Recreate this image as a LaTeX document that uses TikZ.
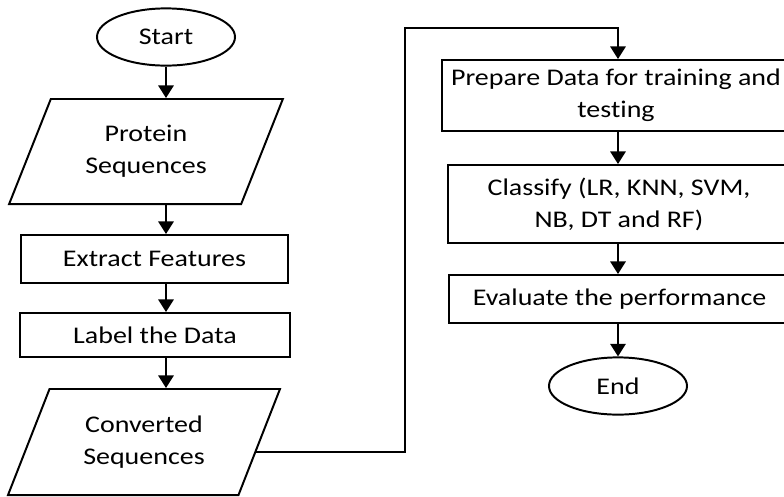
\documentclass[tikz,border=0pt]{standalone}
\usepackage{fontspec}
\setmainfont{Carlito}[FakeStretch=1.17,Ligatures=NoCommon]
\usepackage{tikz}
\usetikzlibrary{arrows.meta,positioning,shapes.geometric,calc}

\begin{document}
\begin{tikzpicture}[
  x=0.025cm,y=-0.025cm,
  font=\fontsize{17}{22.7}\selectfont,
  terminal/.style={ellipse,draw,line width=1.4pt,minimum width=3.45cm,minimum height=1.43cm,inner sep=0pt},
  io/.style={trapezium,trapezium left angle=63,trapezium right angle=117,trapezium stretches=true,draw,line width=1.4pt,align=center,inner sep=0pt},
  stepbox/.style={rectangle,draw,line width=1.4pt,align=center,inner sep=0pt},
  arrow/.style={-{Triangle[length=9pt,width=11pt]},line width=1.4pt}
]
\clip (0,0) rectangle (784,496);
% left column
\node[terminal] (start) at (166,37) {Start};
\node[io,minimum width=6.85cm,minimum height=2.625cm] (prot) at (146,151.5) {Protein\\Sequences};
\node[stepbox,minimum width=6.675cm,minimum height=1.2cm] (ext) at (154.5,259) {Extract Features};
\node[stepbox,minimum width=6.75cm,minimum height=1.1cm] (lab) at (155,335) {Label the Data};
\node[io,minimum width=6.8cm,minimum height=2.65cm] (conv) at (144,442) {Converted\\Sequences};
% right column
\node[stepbox,minimum width=8.7cm,minimum height=1.775cm] (prep) at (616,95.5) {Prepare Data for training and\\testing};
\node[stepbox,minimum width=8.55cm,minimum height=1.95cm] (cls) at (619,204) {Classify (LR, KNN, SVM,\\NB, DT and RF)};
\node[stepbox,minimum width=8.525cm,minimum height=1.2cm] (eval) at (619.5,299) {Evaluate the performance};
\node[terminal] (end) at (618,386) {End};
\coordinate (bend) at (405,28);

\draw[arrow] (start) -- (prot.north -| start);
\draw[arrow] (prot.south -| start) -- (ext.north -| start);
\draw[arrow] (ext.south -| start) -- (lab.north -| start);
\draw[arrow] (lab.south -| start) -- (conv.north -| start);
\draw[arrow] (conv.-5) -| (bend) -| (prep.north -| end);
\draw[arrow] (prep.south -| end) -- (cls.north -| end);
\draw[arrow] (cls.south -| end) -- (eval.north -| end);
\draw[arrow] (eval.south -| end) -- (end);
\end{tikzpicture}
\end{document}
